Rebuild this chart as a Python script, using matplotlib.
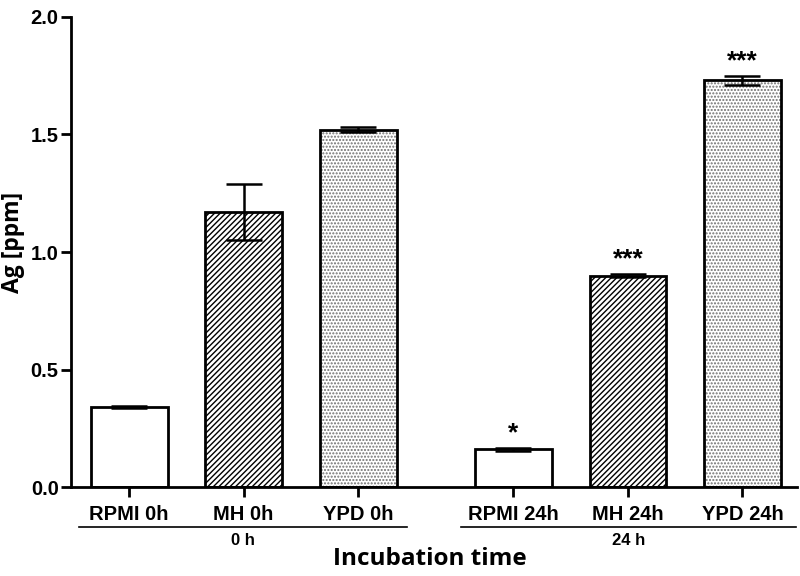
import numpy as np
import matplotlib.pyplot as plt

labels = ['RPMI 0h', 'MH 0h', 'YPD 0h', 'RPMI 24h', 'MH 24h', 'YPD 24h']
values = [0.34, 1.17, 1.52, 0.16, 0.90, 1.73]
errors = [0.004, 0.12, 0.01, 0.008, 0.006, 0.02]
stars = ['', '', '', '*', '***', '***']
groups = ['0 h', '24 h']

plt.rcParams['font.family'] = ['Liberation Sans', 'DejaVu Sans']
plt.rcParams['font.weight'] = 'bold'
plt.rcParams['hatch.linewidth'] = 1.0

x = np.array([0, 1, 2, 3.355, 4.355, 5.355])
width = 0.67

fig = plt.figure(figsize=(8, 5.76), dpi=100)
ax = fig.add_axes([0.089, 0.1545, 0.907, 0.816])

hatches = [None, '//////', '.....', None, '//////', '.....']
for i in range(len(x)):
    if hatches[i] == '.....':
        ax.bar(x[i], values[i], width, color='white', edgecolor='#707070',
               hatch='.....', linewidth=0, zorder=2)
        ax.bar(x[i], values[i], width, color='none', edgecolor='black',
               linewidth=2.0, zorder=3)
    else:
        ax.bar(x[i], values[i], width, color='white', edgecolor='black',
               hatch=hatches[i], linewidth=2.0, zorder=2)

ax.errorbar(x, values, yerr=errors, fmt='none', ecolor='black', elinewidth=1.8,
            capsize=13, capthick=1.8, zorder=4)

for i in range(len(x)):
    if stars[i]:
        ax.text(x[i], values[i] + errors[i] + 0.01, stars[i], ha='center', va='bottom',
                fontsize=19, fontweight='bold')

ax.set_xlim(-0.506, 5.83)
ax.set_ylim(0, 2.0)
ax.set_yticks([0, 0.5, 1.0, 1.5, 2.0])
ax.set_yticklabels(['0.0', '0.5', '1.0', '1.5', '2.0'])
ax.set_xticks(x)
ax.set_xticklabels(labels)
ax.tick_params(axis='both', width=2, length=7, labelsize=14.5)
ax.tick_params(axis='x', pad=6)
ax.tick_params(axis='y', pad=2)
for s in ['top', 'right']:
    ax.spines[s].set_visible(False)
for s in ['left', 'bottom']:
    ax.spines[s].set_linewidth(2)

ax.set_ylabel('Ag [ppm]', fontsize=16.5, fontweight='bold', family=['Open Sans', 'DejaVu Sans'])
ax.yaxis.set_label_coords(-0.064, 0.52)

# group lines under tick labels
trans = ax.get_xaxis_transform()
spans = [(-0.44, 2.43), (2.9, 5.82)]
for (a, b), g in zip(spans, groups):
    ax.plot([a, b], [-0.085, -0.085], color='black', lw=1.2, transform=trans, clip_on=False)
    ax.text((a + b) / 2, -0.098, g, transform=trans, ha='center', va='top', fontsize=12,
            fontweight='bold')

fig.text(0.537, 0.03, 'Incubation time', ha='center', va='center', fontsize=17.5,
         fontweight='bold', family=['Open Sans', 'DejaVu Sans'])

fig.savefig('out.png', dpi=100)
